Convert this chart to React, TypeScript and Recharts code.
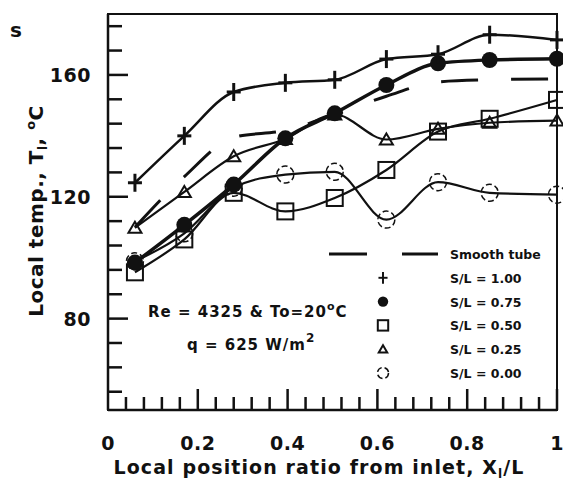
import React from 'react';
import { LineChart, Line, XAxis, YAxis, ReferenceArea, Legend } from 'recharts';

// ---- data ----
const positions = [0.06, 0.17, 0.28, 0.395, 0.505, 0.62, 0.735, 0.85, 1.0];
const smoothTube = [110, 126.6, 139.5, 141.8, 147, 153, 157.7, 158.4, 158.7];
const sl100 = [124.6, 140, 154.4, 157.4, 158.4, 165.2, 166.8, 173.2, 171.5];
const sl075 = [98.4, 110.8, 124, 139.2, 147.4, 156.7, 163.8, 164.9, 165.3];
const sl050 = [95.2, 106, 121.3, 115.2, 119.6, 128.8, 141.4, 145.6, 151.8];
const sl025 = [109.8, 121.6, 133.3, 139, 147, 138.8, 142.3, 144.3, 145];
const sl000 = [98.8, 108, 123, 127.3, 128.2, 112.5, 124.8, 121.3, 120.7];

const seriesLabels = ['Smooth tube', 'S/L = 1.00', 'S/L = 0.75', 'S/L = 0.50', 'S/L = 0.25', 'S/L = 0.00'];
const xTicks = [0, 0.04, 0.08, 0.12, 0.16, 0.2, 0.24, 0.28, 0.32, 0.36, 0.4, 0.44, 0.48, 0.52, 0.56, 0.6, 0.64, 0.68, 0.72, 0.76, 0.8, 0.84, 0.88, 0.92, 0.96, 1];
const xMajorLabels = ['0', '0.2', '0.4', '0.6', '0.8', '1'];
const yTicks = [56, 64, 72, 80, 88, 96, 104, 112, 120, 128, 136, 144, 152, 160, 168, 176];
const yMajor = [80, 120, 160];

const rows = positions.map((x, i) => ({
  x,
  smooth: smoothTube[i],
  s100: sl100[i],
  s075: sl075[i],
  s050: sl050[i],
  s025: sl025[i],
  s000: sl000[i],
}));

const INK = '#111';
const FONT = '"DejaVu Sans", "Liberation Sans", Arial, sans-serif';

type Shape = 'plus' | 'disc' | 'square' | 'triangle' | 'circle';

function Marker({ shape, cx, cy, s = 1 }: { shape: Shape; cx: number; cy: number; s?: number }) {
  if (cx == null || cy == null) return null;
  switch (shape) {
    case 'plus':
      return (
        <g>
          <line x1={cx - 7 * s} x2={cx + 7 * s} y1={cy} y2={cy} stroke={INK} strokeWidth={3 * s} />
          <line x1={cx} x2={cx} y1={cy - 9 * s} y2={cy + 9 * s} stroke={INK} strokeWidth={3 * s} />
        </g>
      );
    case 'disc':
      return <circle cx={cx} cy={cy} r={8 * s} fill={INK} />;
    case 'square':
      return (
        <rect x={cx - 8 * s} y={cy - 8 * s} width={16 * s} height={16 * s} fill="none" stroke={INK} strokeWidth={2} />
      );
    case 'triangle':
      return (
        <polygon
          points={`${cx},${cy - 6 * s} ${cx + 6.5 * s},${cy + 5 * s} ${cx - 6.5 * s},${cy + 5 * s}`}
          fill="none"
          stroke={INK}
          strokeWidth={2}
        />
      );
    case 'circle':
      return <circle cx={cx} cy={cy} r={8.5 * s} fill="none" stroke={INK} strokeWidth={1.5} strokeDasharray="6 3" />;
  }
  return null;
}

const dotFor = (shape: Shape) => (props: any) => (
  <Marker key={`${shape}-${props.index}`} shape={shape} cx={props.cx} cy={props.cy} />
);

const YTick = (props: any) => {
  const { x, y, payload } = props;
  const v = payload.value;
  const major = yMajor.includes(v);
  return (
    <g>
      <line x1={x} x2={x + (major ? 20 : 14)} y1={y} y2={y} stroke={INK} strokeWidth={2.5} />
      {major && (
        <text x={x - 17} y={y + 7} textAnchor="end" fontFamily={FONT} fontWeight="bold" fontSize={19} fill={INK} letterSpacing={0.5}>
          {v}
        </text>
      )}
    </g>
  );
};

const XTick = (props: any) => {
  const { x, y, payload } = props;
  const v = payload.value;
  const k = Math.round(v * 5);
  const major = Math.abs(v * 5 - k) < 1e-6;
  return (
    <g>
      {v > 0 && <line x1={x} x2={x} y1={y} y2={y - (major ? 21 : 13)} stroke={INK} strokeWidth={2.5} />}
      {major && (
        <text x={x} y={y + 40} textAnchor="middle" fontFamily={FONT} fontWeight="bold" fontSize={19} fill={INK} letterSpacing={0.5}>
          {xMajorLabels[k]}
        </text>
      )}
    </g>
  );
};

const legendShapes: (Shape | null)[] = [null, 'plus', 'disc', 'square', 'triangle', 'circle'];

const LegendBox = () => (
  <svg width={240} height={140} style={{ display: 'block', overflow: 'visible' }}>
    {seriesLabels.map((label, i) => {
      const cy = 14 + i * 23.8;
      const shape = legendShapes[i];
      return (
        <g key={label}>
          {shape === null ? (
            <g>
              <line x1={9} x2={47} y1={cy} y2={cy} stroke={INK} strokeWidth={3} />
              <line x1={82} x2={118} y1={cy} y2={cy} stroke={INK} strokeWidth={3} />
            </g>
          ) : (
            <Marker shape={shape} cx={63} cy={cy} s={0.65} />
          )}
          <text x={130} y={cy + 5} fontFamily={FONT} fontWeight="bold" fontSize={12.5} fill={INK}>
            {label}
          </text>
        </g>
      );
    })}
  </svg>
);

export default function App() {
  return (
    <div style={{ position: 'absolute', left: 0, top: 0, width: 563, height: 481, background: '#fff' }}>
      <LineChart width={563} height={481} data={rows} margin={{ top: 14, right: 6, bottom: 41, left: 0 }}>
        <XAxis
          dataKey="x"
          type="number"
          domain={[0, 1]}
          ticks={xTicks}
          interval={0}
          height={30}
          tickSize={0}
          tickMargin={0}
          tickLine={false}
          axisLine={{ stroke: INK, strokeWidth: 2.5 }}
          tick={<XTick />}
        />
        <YAxis
          type="number"
          domain={[50, 180]}
          ticks={yTicks}
          interval={0}
          width={108}
          tickSize={0}
          tickMargin={0}
          tickLine={false}
          axisLine={{ stroke: INK, strokeWidth: 2.5 }}
          tick={<YTick />}
        />
        <ReferenceArea x1={0} x2={1} y1={50} y2={180} fill="none" stroke={INK} strokeWidth={2} ifOverflow="visible" />
        <Line dataKey="smooth" type="monotone" stroke={INK} strokeWidth={3} strokeDasharray="37 33" dot={false} isAnimationActive={false} />
        <Line dataKey="s000" type="monotone" stroke={INK} strokeWidth={2.2} dot={dotFor('circle')} isAnimationActive={false} />
        <Line dataKey="s025" type="monotone" stroke={INK} strokeWidth={2.2} dot={dotFor('triangle')} isAnimationActive={false} />
        <Line dataKey="s050" type="monotone" stroke={INK} strokeWidth={2.2} dot={dotFor('square')} isAnimationActive={false} />
        <Line dataKey="s075" type="monotone" stroke={INK} strokeWidth={3.5} dot={dotFor('disc')} isAnimationActive={false} />
        <Line dataKey="s100" type="monotone" stroke={INK} strokeWidth={2.5} dot={dotFor('plus')} isAnimationActive={false} />
        <Legend
          layout="vertical"
          align="center"
          verticalAlign="middle"
          wrapperStyle={{ left: 320, top: 240, width: 240, height: 140 }}
          content={() => <LegendBox />}
        />
      </LineChart>
      <svg width={563} height={481} style={{ position: 'absolute', left: 0, top: 0, pointerEvents: 'none' }}>
        <text x={10} y={37} fontFamily={FONT} fontWeight="bold" fontSize={20} fill={INK}>s</text>
        <text x={148} y={317} fontFamily={FONT} fontWeight="bold" fontSize={15} fill={INK} letterSpacing={1}>
          Re = 4325 &amp; To=20<tspan dy={-7} fontSize={11}>o</tspan><tspan dy={7}>C</tspan>
        </text>
        <text x={187} y={350} fontFamily={FONT} fontWeight="bold" fontSize={15} fill={INK} letterSpacing={1}>
          q = 625 W/m<tspan dy={-8} fontSize={12}>2</tspan>
        </text>
        <text x={319} y={474} textAnchor="middle" fontFamily={FONT} fontWeight="bold" fontSize={19} fill={INK} letterSpacing={1.1}>
          Local position ratio from inlet,  X<tspan dy={4} fontSize={12}>l</tspan><tspan dy={-4}>/L</tspan>
        </text>
        <text x={43} y={211} transform="rotate(-90 43 211)" textAnchor="middle" fontFamily={FONT} fontWeight="bold" fontSize={20} fill={INK} letterSpacing={0.5}>
          Local temp., T<tspan dy={4} fontSize={12}>l</tspan><tspan dy={-4}>,  </tspan><tspan dy={-8} fontSize={13}>o</tspan><tspan dy={8}>C</tspan>
        </text>
      </svg>
    </div>
  );
}
